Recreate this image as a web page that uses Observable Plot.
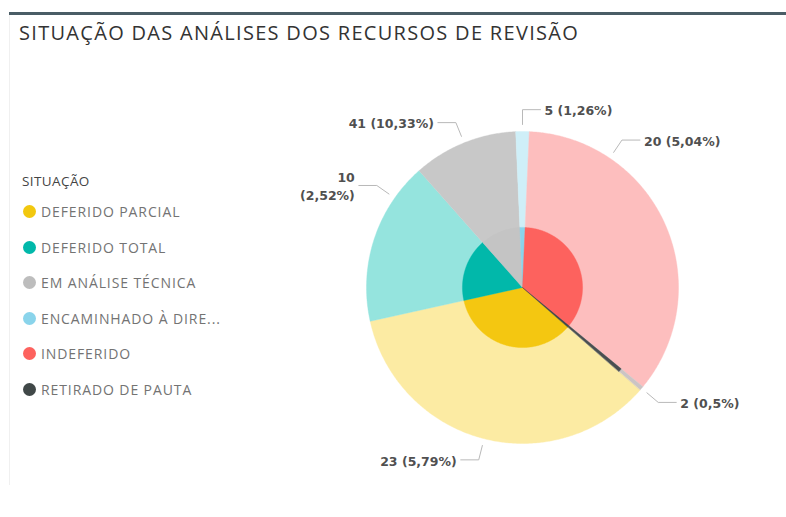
<!DOCTYPE html>
<html>
<head>
<meta charset="utf-8">
<script src="https://cdn.jsdelivr.net/npm/d3@7"></script>
<script src="https://cdn.jsdelivr.net/npm/@observablehq/plot@0.6"></script>
<style>
  html, body { margin: 0; padding: 0; background: #ffffff; }
  #frame { position: relative; width: 786px; height: 517px; overflow: hidden; background: #fff; font-family: "Open Sans", "Noto Sans", sans-serif; }
  #topline { position: absolute; left: 9px; top: 12px; width: 777px; height: 3px; background: #4a5d66; }
  #leftline { position: absolute; left: 9px; top: 15px; width: 1px; height: 470px; background: #f0f0f0; }
  #title { position: absolute; left: 19px; top: 20px; font-size: 20px; letter-spacing: 1.3px; color: #333; white-space: nowrap; line-height: 26px; }
  #legend { position: absolute; left: 22px; top: 170px; width: 270px; }
  #legend .lt { font-size: 13.5px; letter-spacing: 0.4px; color: #444; height: 22px; line-height: 22px; margin-bottom: 2px; }
  #legend .item { height: 35.5px; display: flex; align-items: center; font-size: 14px; letter-spacing: 0.9px; color: #737373; white-space: nowrap; }
  #legend .sw { width: 13px; height: 13px; border-radius: 50%; margin-left: 1px; margin-right: 5px; flex: none; }
  #chart { position: absolute; left: 300px; top: 60px; width: 486px; height: 440px; }
</style>
</head>
<body>
<div id="frame">
  <div id="topline"></div>
  <div id="leftline"></div>
  <div id="title">SITUAÇÃO DAS ANÁLISES DOS RECURSOS DE REVISÃO</div>
  <div id="legend"></div>
  <div id="chart"></div>
</div>
<script>
// ---- data (legend order) ----
const categories = ["DEFERIDO PARCIAL", "DEFERIDO TOTAL", "EM ANÁLISE TÉCNICA", "ENCAMINHADO À DIRETORIA", "INDEFERIDO", "RETIRADO DE PAUTA"];
const legendLabels = ["DEFERIDO PARCIAL", "DEFERIDO TOTAL", "EM ANÁLISE TÉCNICA", "ENCAMINHADO À DIRE...", "INDEFERIDO", "RETIRADO DE PAUTA"];
const sliceShare = [126.5, 61, 39, 5, 127, 1.5];          // size of each slice as drawn
const counts = [23, 10, 41, 5, 20, 2];
const percents = ["5,79%", "2,52%", "10,33%", "1,26%", "5,04%", "0,5%"];
const legendTitle = "SITUAÇÃO";
const innerColors = ["#F4C711", "#01B8AA", "#C4C4C4", "#8AD4EB", "#FD625E", "#3F4A4C"];
const outerColors = ["#FCEBA3", "#95E4DE", "#C8C8C8", "#CFEFF8", "#FDBEBE", "#CBC4C4"];
const middleColors = [null, null, null, null, null, "#4A4F50"];   // darker band shown only for the thin slice
const legendColors = ["#F2C80F", "#01B8AA", "#BDBDBD", "#8AD4EB", "#FD625E", "#404848"];

// ---- layout ----
const W = 486, H = 440, CX = 222, CY = 227, R = 156;
const innerRadius = 0.385;
const middleRadius = 0.82;
const startDeg = 131;
const labelShiftDeg = [0, 17, 0, 0, -32, 0];
const labelSplit = [false, true, false, false, false, false];

// legend
const legend = document.getElementById("legend");
const lt = document.createElement("div"); lt.className = "lt"; lt.textContent = legendTitle; legend.appendChild(lt);
legendLabels.forEach((l, i) => {
  const it = document.createElement("div"); it.className = "item";
  const sw = document.createElement("span"); sw.className = "sw"; sw.style.background = legendColors[i];
  const tx = document.createElement("span"); tx.textContent = l;
  it.appendChild(sw); it.appendChild(tx); legend.appendChild(it);
});

// pie geometry
const toRad = Math.PI / 180;
const arcs = d3.pie().sort(null).value(d => d)
  .startAngle(startDeg * toRad).endAngle(startDeg * toRad + 2 * Math.PI)(sliceShare);

function slicePolygon(a0, a1, r, key, color) {
  const pts = [{x: 0, y: 0, key, color}];
  const n = Math.max(2, Math.ceil((a1 - a0) / (0.5 * toRad)));
  for (let k = 0; k <= n; k++) {
    const a = a0 + (a1 - a0) * k / n;
    pts.push({x: r * Math.sin(a), y: -r * Math.cos(a), key, color});
  }
  return pts;
}
const outerPts = arcs.flatMap((a, i) => slicePolygon(a.startAngle, a.endAngle, 1, "o" + i, outerColors[i]));
const middlePts = arcs.flatMap((a, i) => middleColors[i] ? slicePolygon(a.startAngle, a.endAngle, middleRadius, "m" + i, middleColors[i]) : []);
const innerPts = arcs.flatMap((a, i) => slicePolygon(a.startAngle, a.endAngle, innerRadius, "i" + i, innerColors[i]));

// labels + leader lines
const leaderPts = [];
const labels = [];
arcs.forEach((a, i) => {
  const th = (a.startAngle + a.endAngle) / 2 + labelShiftDeg[i] * toRad;
  const side = Math.sin(th) >= -1e-9 ? 1 : -1;
  const e = {x: 1.045 * Math.sin(th), y: -1.045 * Math.cos(th)};
  const b = {x: 1.14 * Math.sin(th), y: -1.14 * Math.cos(th)};
  const f = {x: b.x + side * 18 / R, y: b.y};
  [e, b, f].forEach(p => leaderPts.push({...p, key: "l" + i}));
  const text = labelSplit[i] ? `${counts[i]}\n(${percents[i]})` : `${counts[i]} (${percents[i]})`;
  labels.push({x: f.x + side * 4 / R, y: f.y, text, side});
});

const xDomain = [-CX / R, (W - CX) / R];
const yDomain = [-CY / R, (H - CY) / R];

const chart = Plot.plot({
  width: W, height: H,
  margin: 0,
  x: {domain: xDomain, range: [0, W], axis: null},
  y: {domain: yDomain, range: [0, H], axis: null},
  color: {type: "identity"},
  style: {background: "transparent", overflow: "visible"},
  marks: [
    Plot.line(outerPts, {x: "x", y: "y", z: "key", fill: "color", stroke: "color", strokeWidth: 0.4, curve: "linear-closed"}),
    Plot.line(middlePts, {x: "x", y: "y", z: "key", fill: "color", stroke: "color", strokeWidth: 0.4, curve: "linear-closed"}),
    Plot.line(innerPts, {x: "x", y: "y", z: "key", fill: "color", stroke: "color", strokeWidth: 0.4, curve: "linear-closed"}),
    Plot.line(leaderPts, {x: "x", y: "y", z: "key", stroke: "#b9b9b9", strokeWidth: 1, curve: "linear"}),
    Plot.text(labels.filter(d => d.side > 0), {x: "x", y: "y", text: "text", textAnchor: "start", fontSize: 12.5, fontWeight: "bold", fontFamily: "DejaVu Sans", fill: "#505050", lineHeight: 1.45}),
    Plot.text(labels.filter(d => d.side < 0), {x: "x", y: "y", text: "text", textAnchor: "end", fontSize: 12.5, fontWeight: "bold", fontFamily: "DejaVu Sans", fill: "#505050", lineHeight: 1.45})
  ]
});
document.getElementById("chart").appendChild(chart);
</script>
</body>
</html>
